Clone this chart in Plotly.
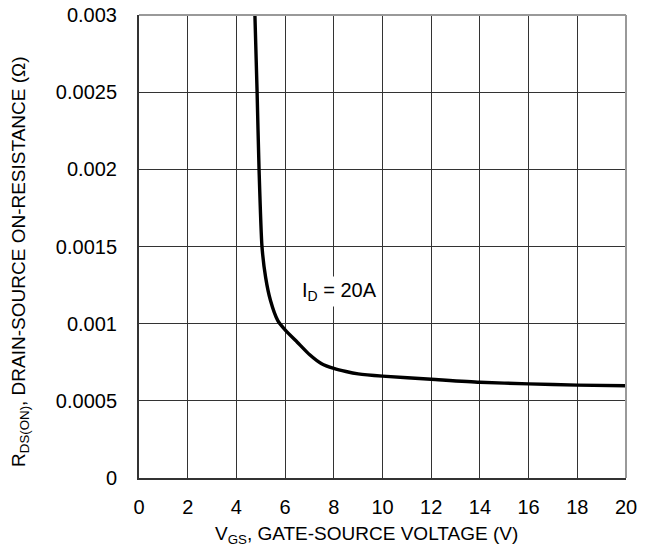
import plotly.graph_objects as go

vgs = [4.76, 4.85, 4.93, 5.05, 5.2, 5.4, 5.7, 6.0, 6.5, 7.0, 7.5, 8.0, 8.5, 9.0, 10.0, 12.0, 14.0, 16.0, 18.0, 20.0]
rds = [0.003, 0.0025, 0.002, 0.0015, 0.0013, 0.00115, 0.00102, 0.00096, 0.00088, 0.0008, 0.00074, 0.00071,
       0.00069, 0.000675, 0.00066, 0.00064, 0.00062, 0.00061, 0.000602, 0.000598]

x_ticks = [0, 2, 4, 6, 8, 10, 12, 14, 16, 18, 20]
y_ticks = [0, 0.0005, 0.001, 0.0015, 0.002, 0.0025, 0.003]
y_ticktext = ["0", "0.0005", "0.001", "0.0015", "0.002", "0.0025", "0.003"]

fam = "Liberation Sans, Arial, sans-serif"
tickfont = dict(family=fam, size=20, color="black")
titlefont = dict(family=fam, size=19, color="black")

fig = go.Figure()
fig.add_trace(go.Scatter(x=vgs, y=rds, mode="lines", line=dict(color="black", width=3.4, shape="spline", smoothing=0.6),
                         showlegend=False, hoverinfo="skip"))

fig.add_annotation(x=8.25, y=0.00121, text="I<sub>D</sub> = 20A", showarrow=False,
                   font=dict(family=fam, size=20, color="black"), bgcolor="white", borderpad=2)

fig.add_annotation(xref="paper", yref="paper", x=0.468, y=-0.123, text="V<sub>GS</sub>, GATE-SOURCE VOLTAGE (V)",
                   showarrow=False, font=titlefont, xanchor="center", yanchor="middle")
fig.add_annotation(xref="paper", yref="paper", x=-0.244, y=0.467, text="R<sub>DS(ON)</sub>, DRAIN-SOURCE ON-RESISTANCE (Ω)",
                   showarrow=False, font=titlefont, textangle=-90, xanchor="center", yanchor="middle")

# top and right borders (lighter)
fig.add_shape(type="line", xref="paper", yref="paper", x0=0, x1=1, y0=1, y1=1, line=dict(color="#999", width=2))
fig.add_shape(type="line", xref="paper", yref="paper", x0=1, x1=1, y0=0, y1=1, line=dict(color="#999", width=2))

fig.update_layout(
    width=654, height=550,
    margin=dict(l=139, r=28, t=15, b=72),
    paper_bgcolor="white", plot_bgcolor="white",
    font=tickfont,
    xaxis=dict(range=[0, 20], tickvals=x_ticks, showgrid=True, gridcolor="#333", gridwidth=1,
               zeroline=False, showline=True, linecolor="#333", linewidth=2, ticks="", ticklen=0,
               ticklabelstandoff=10, tickfont=tickfont, automargin=False),
    yaxis=dict(range=[0, 0.003], tickvals=y_ticks, ticktext=y_ticktext, showgrid=True, gridcolor="#333",
               gridwidth=1, zeroline=False, showline=True, linecolor="#333", linewidth=2, ticks="",
               ticklabelstandoff=16, tickfont=tickfont, automargin=False),
)

fig.write_html("out.html")
